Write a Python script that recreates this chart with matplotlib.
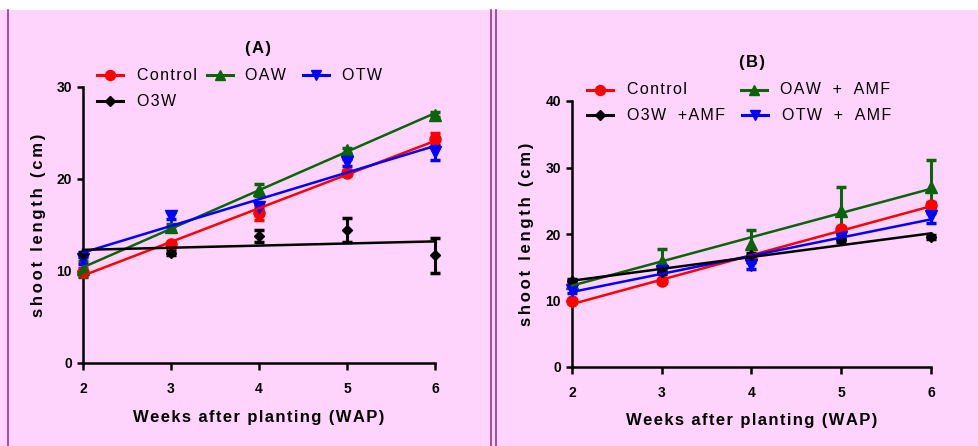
import numpy as np
import matplotlib
matplotlib.use("Agg")
import matplotlib.pyplot as plt
from matplotlib.lines import Line2D
from matplotlib.patches import Rectangle

plt.rcParams['font.family'] = ['Liberation Sans', 'DejaVu Sans']

weeks = [2, 3, 4, 5, 6]

# Panel A
a_names = ["Control", "OAW", "OTW", "O3W"]
a_control = [9.9, 12.9, 16.3, 20.7, 24.3]
a_control_err = [0.4, 0.3, 0.8, 0.3, 0.7]
a_oaw = [10.2, 14.8, 18.8, 23.1, 27.0]
a_oaw_err = [0.9, 0.3, 0.7, 0.3, 0.3]
a_otw = [11.3, 16.0, 17.0, 21.8, 22.9]
a_otw_err = [0.5, 0.4, 0.3, 0.4, 0.8]
a_o3w = [11.8, 12.0, 13.8, 14.5, 11.7]
a_o3w_err = [0.3, 0.3, 0.7, 1.3, 1.9]

# Panel B
b_names = ["Control", "OAW + AMF", "OTW + AMF", "O3W +AMF"]
b_control = [9.9, 12.9, 16.2, 20.7, 24.4]
b_control_err = [0.3, 0.3, 0.4, 0.4, 0.4]
b_oaw = [12.6, 16.0, 18.5, 23.4, 27.1]
b_oaw_err = [0.5, 1.8, 2.1, 3.6, 4.0]
b_otw = [11.6, 14.5, 15.3, 19.6, 22.7]
b_otw_err = [0.4, 0.4, 0.5, 0.4, 1.0]
b_o3w = [13.0, 14.3, 16.8, 19.1, 19.5]
b_o3w_err = [0.3, 0.3, 0.3, 0.3, 0.3]

colors = ["#FF0000", "#0A640A", "#0000FF", "#000000"]
markers = ["o", "^", "v", "D"]
msizes = [8, 8, 8, 5.5]

PINK = "#FFD4FC"
PURPLE = "#8E3A8E"
W, H = 979, 446

fig = plt.figure(figsize=(W / 100, H / 100), dpi=100, facecolor=PINK)


def fx(px):
    return px / W


def fy(py):
    return 1 - py / H


def sp(s, n=1, word=1):
    out = ("\u200a" * n).join(s)
    if word > 1:
        out = out.replace(" ", " " * word)
    return out


# background decorations
fig.patches.append(Rectangle((0, fy(10)), 1, 1 - fy(10), transform=fig.transFigure,
                             facecolor="white", edgecolor="none", zorder=0))
for xpx in [8, 491.5, 496.5]:
    fig.add_artist(Line2D([fx(xpx), fx(xpx)], [0, fy(10)], color=PURPLE, lw=1.2,
                          transform=fig.transFigure))


def panel(rect, ylim, yticks, series, errs, title, title_xy, ylabel_x, xlabel_y):
    ax = fig.add_axes(rect)
    ax.set_facecolor("none")
    x = np.array(weeks, dtype=float)
    for i, (vals, err) in enumerate(zip(series, errs)):
        c = colors[i]
        ax.errorbar(x, vals, yerr=err, fmt="none", ecolor=c, elinewidth=2.2,
                    capsize=3.5, capthick=2.5, zorder=3, clip_on=False)
        ax.plot(x, vals, linestyle="none", marker=markers[i], ms=msizes[i],
                color=c, zorder=4, clip_on=False)
        k, b = np.polyfit(x, vals, 1)
        xx = np.array([weeks[0], weeks[-1]], dtype=float)
        ax.plot(xx, k * xx + b, color=c, lw=1.8, zorder=5, clip_on=False)
    ax.set_xlim(weeks[0], weeks[-1])
    ax.set_ylim(*ylim)
    ax.set_xticks(weeks)
    ax.set_yticks(yticks)
    for s in ["top", "right"]:
        ax.spines[s].set_visible(False)
    for s in ["left", "bottom"]:
        ax.spines[s].set_linewidth(1.8)
    ax.tick_params(width=1.8, direction="out", labelsize=10)
    ax.tick_params(axis="x", length=5, pad=9)
    ax.tick_params(axis="y", length=4.5, pad=3.5)
    for lab in ax.get_xticklabels() + ax.get_yticklabels():
        lab.set_fontweight("bold")
    ax.set_xlabel(sp("Weeks after planting (WAP)", 1), fontsize=12, fontweight="bold")
    ax.set_ylabel(sp("shoot length (cm)", 2), fontsize=12, fontweight="bold")
    ax.yaxis.set_label_coords(ylabel_x, 0.5)
    ax.xaxis.set_label_coords(0.5, xlabel_y)
    fig.text(fx(title_xy[0]), fy(title_xy[1]), sp(title, 1), ha="center", va="center",
             fontsize=12, fontweight="bold")
    return ax


axA = panel([fx(83), fy(363), fx(435) - fx(83), fy(87) - fy(363)], (0, 30), [0, 10, 20, 30],
            [a_control, a_oaw, a_otw, a_o3w],
            [a_control_err, a_oaw_err, a_otw_err, a_o3w_err], "(A)", (258, 48),
            -0.105, -0.172)
axB = panel([fx(572), fy(367), fx(931) - fx(572), fy(101) - fy(367)], (0, 40), [0, 10, 20, 30, 40],
            [b_control, b_oaw, b_otw, b_o3w],
            [b_control_err, b_oaw_err, b_otw_err, b_o3w_err], "(B)", (752, 63),
            -0.106, -0.173)


def legend_entry(x0, y0, idx, label, x_text):
    c = colors[idx]
    fig.add_artist(Line2D([fx(x0), fx(x0 + 26)], [fy(y0), fy(y0)], color=c, lw=2.2,
                          transform=fig.transFigure))
    fig.add_artist(Line2D([fx(x0 + 13)], [fy(y0)], color=c, marker=markers[idx],
                          ms=msizes[idx] * 0.9, transform=fig.transFigure))
    fig.text(fx(x_text), fy(y0), sp(label, 1, 2), ha="left", va="center", fontsize=11.5)


# legend A
legend_entry(97, 75, 0, a_names[0], 137)
legend_entry(207, 75, 1, a_names[1], 245)
legend_entry(303, 75, 2, a_names[2], 342)
legend_entry(97, 101, 3, a_names[3], 137)
# legend B
legend_entry(587, 90, 0, b_names[0], 627)
legend_entry(741, 90, 1, b_names[1], 780)
legend_entry(587, 115, 3, b_names[3], 627)
legend_entry(742, 115, 2, b_names[2], 782)

fig.savefig("out.png", dpi=100, facecolor=PINK)
